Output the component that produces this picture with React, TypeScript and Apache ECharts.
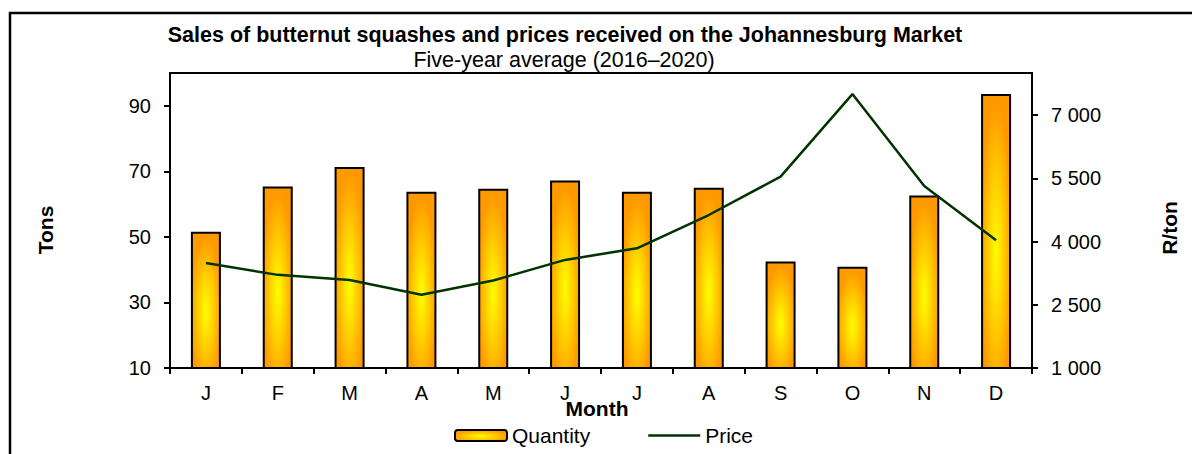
import React, { useEffect, useRef } from "react";
import * as echarts from "echarts";

const months = ["J", "F", "M", "A", "M", "J", "J", "A", "S", "O", "N", "D"];
const quantity = [51.6, 65.4, 71.3, 63.8, 64.7, 67.2, 63.8, 65.0, 42.5, 40.9, 62.6, 93.6];
const price = [3490, 3210, 3090, 2740, 3075, 3565, 3840, 4630, 5540, 7500, 5320, 4030];
const tonsTicks = [10, 30, 50, 70, 90];
const priceTicks = [1000, 2500, 4000, 5500, 7000];

const FONT = "Liberation Sans, Arial, Helvetica, sans-serif";

export default function App() {
  const ref = useRef<HTMLDivElement>(null);
  useEffect(() => {
    if (!ref.current) return;
    const chart = echarts.init(ref.current, null, { renderer: "svg" });
    const barFill = new echarts.graphic.RadialGradient(0.5, 0.58, 0.55, [
      { offset: 0, color: "#ffff00" },
      { offset: 0.45, color: "#ffd200" },
      { offset: 1, color: "#ff9900" },
    ]);
    chart.setOption({
      animation: false,
      backgroundColor: "#ffffff",
      textStyle: { fontFamily: FONT, color: "#000" },
      grid: {
        left: 170,
        right: 160,
        top: 73,
        bottom: 86,
        show: true,
        borderColor: "#000",
        borderWidth: 2,
        backgroundColor: "transparent",
      },
      legend: {
        left: 454,
        top: 425,
        padding: 0,
        itemWidth: 52,
        itemHeight: 11,
        itemGap: 58,
        textStyle: { fontSize: 21, fontFamily: FONT, color: "#000" },
        data: [
          { name: "Quantity" },
          {
            name: "Price",
            icon: "path://M0,0H52V2.5H0Z",
            itemStyle: { color: "#003300", borderWidth: 0 },
          },
        ],
      },
      xAxis: {
        type: "category",
        data: months,
        boundaryGap: true,
        axisLine: { lineStyle: { color: "#000", width: 2 } },
        axisTick: { show: true, interval: 0, length: 6, lineStyle: { color: "#000", width: 2 } },
        axisLabel: { interval: 0, fontSize: 20, color: "#000", margin: 15, fontFamily: FONT },
        splitLine: { show: false },
      },
      yAxis: [
        {
          type: "value",
          min: 10,
          max: 100,
          interval: 10,
          axisLine: { show: true, lineStyle: { color: "#000", width: 2 } },
          axisTick: {
            show: true,
            length: 6,
            customValues: tonsTicks,
            lineStyle: { color: "#000", width: 2 },
          },
          axisLabel: {
            fontSize: 20,
            color: "#000",
            margin: 19,
            fontFamily: FONT,
            customValues: tonsTicks,
          },
          splitLine: { show: false },
        },
        {
          type: "value",
          min: 1000,
          max: 8000,
          interval: 500,
          position: "right",
          axisLine: { show: true, lineStyle: { color: "#000", width: 2 } },
          axisTick: {
            show: true,
            length: 6,
            customValues: priceTicks,
            lineStyle: { color: "#000", width: 2 },
          },
          axisLabel: {
            fontSize: 20,
            color: "#000",
            margin: 19,
            fontFamily: FONT,
            customValues: priceTicks,
            formatter: (v: number) => {
              const s = String(Math.round(v));
              return s.replace(/\B(?=(\d{3})+(?!\d))/g, " ");
            },
          },
          splitLine: { show: false },
        },
      ],
      series: [
        {
          name: "Quantity",
          type: "bar",
          data: quantity,
          barWidth: 30,
          yAxisIndex: 0,
          itemStyle: { color: barFill, borderColor: "#000", borderWidth: 2 },
        },
        {
          name: "Price",
          type: "line",
          data: price,
          yAxisIndex: 1,
          symbol: "none",
          showSymbol: false,
          itemStyle: { color: "#003300" },
          lineStyle: { color: "#003300", width: 2.5 },
        },
      ],
      graphic: [
        {
          type: "line",
          shape: { x1: 9, y1: 13, x2: 1192, y2: 13 },
          style: { stroke: "#000", lineWidth: 2.5 },
        },
        {
          type: "line",
          shape: { x1: 10, y1: 12, x2: 10, y2: 454 },
          style: { stroke: "#000", lineWidth: 2.5 },
        },
        {
          type: "text",
          x: 565,
          y: 35,
          style: {
            text: "Sales of butternut squashes and prices received on the Johannesburg Market",
            fontSize: 21.5,
            fontWeight: "bold",
            fontFamily: FONT,
            fill: "#000",
            align: "center",
            verticalAlign: "middle",
          },
        },
        {
          type: "text",
          x: 564,
          y: 60,
          style: {
            text: "Five-year average (2016–2020)",
            fontSize: 21.5,
            fontFamily: FONT,
            fill: "#000",
            align: "center",
            verticalAlign: "middle",
          },
        },
        {
          type: "text",
          x: 597,
          y: 408,
          style: {
            text: "Month",
            fontSize: 21,
            fontWeight: "bold",
            fontFamily: FONT,
            fill: "#000",
            align: "center",
            verticalAlign: "middle",
          },
        },
        {
          type: "text",
          x: 45,
          y: 230,
          rotation: Math.PI / 2,
          style: {
            text: "Tons",
            fontSize: 21,
            fontWeight: "bold",
            fontFamily: FONT,
            fill: "#000",
            align: "center",
            verticalAlign: "middle",
          },
        },
        {
          type: "text",
          x: 1169,
          y: 228,
          rotation: Math.PI / 2,
          style: {
            text: "R/ton",
            fontSize: 21,
            fontWeight: "bold",
            fontFamily: FONT,
            fill: "#000",
            align: "center",
            verticalAlign: "middle",
          },
        },
      ],
    });
    return () => chart.dispose();
  }, []);
  return (
    <div
      ref={ref}
      style={{ position: "absolute", left: 0, top: 0, width: 1192, height: 454 }}
    />
  );
}
